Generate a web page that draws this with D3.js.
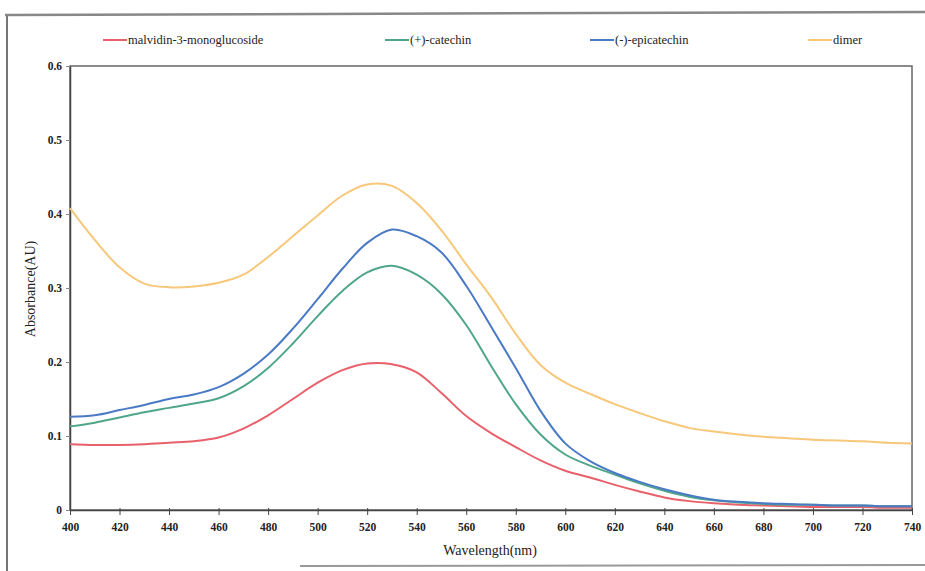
<!DOCTYPE html>
<html>
<head>
<meta charset="utf-8">
<script src="https://cdn.jsdelivr.net/npm/d3@7"></script>
<style>
  body { margin: 0; background: #fff; }
</style>
</head>
<body>
<div id="chart"></div>
<script>
// Wavelengths (nm)
const wavelengths = [400,410,420,430,440,450,460,470,480,490,500,510,520,530,540,550,560,570,580,590,600,610,620,630,640,650,660,670,680,690,700,710,720,730,740];

// Absorbance readings
const malvidin = [.089,.088,.088,.089,.091,.093,.098,.110,.128,.150,.172,.189,.198,.197,.186,.158,.127,.104,.085,.067,.053,.044,.034,.025,.017,.012,.009,.007,.006,.005,.004,.004,.004,.003,.003];
const catechin = [.113,.118,.125,.132,.138,.144,.151,.167,.192,.225,.262,.296,.321,.330,.318,.292,.250,.195,.143,.102,.075,.060,.048,.036,.026,.018,.013,.010,.008,.007,.007,.006,.006,.005,.005];
const epicatechin = [.126,.128,.135,.142,.150,.156,.166,.184,.210,.245,.285,.326,.361,.379,.370,.348,.303,.248,.192,.134,.090,.066,.050,.038,.028,.020,.014,.011,.009,.008,.007,.006,.006,.005,.005];
const dimer = [.408,.365,.328,.306,.301,.302,.307,.318,.342,.370,.398,.425,.440,.438,.415,.378,.332,.288,.238,.196,.172,.157,.143,.131,.120,.111,.106,.102,.099,.097,.095,.094,.093,.091,.090];

const seriesNames = ["malvidin-3-monoglucoside", "(+)-catechin", "(-)-epicatechin", "dimer"];
const seriesColors = ["#e8606a", "#4fa787", "#4a7ac5", "#f7c77a"];
const seriesValues = [malvidin, catechin, epicatechin, dimer];

const xTicks = d3.range(400, 741, 20);
const yTicks = [0, 0.1, 0.2, 0.3, 0.4, 0.5, 0.6];

const width = 925, height = 571;
const margin = { top: 66, right: 13, bottom: 61, left: 70 };
const serif = "'Liberation Serif', 'DejaVu Serif', 'Times New Roman', serif";

const svg = d3.select("#chart").append("svg")
  .attr("width", width)
  .attr("height", height)
  .style("font-family", serif);

// scanned page frame
svg.append("line").attr("x1", 7).attr("y1", 15).attr("x2", 7).attr("y2", 571)
  .attr("stroke", "#777").attr("stroke-width", 2);
svg.append("line").attr("x1", 5).attr("y1", 15).attr("x2", 925).attr("y2", 12)
  .attr("stroke", "#888").attr("stroke-width", 2.5);
svg.append("line").attr("x1", 300).attr("y1", 566).attr("x2", 925).attr("y2", 565)
  .attr("stroke", "#999").attr("stroke-width", 2);

const x = d3.scaleLinear().domain([400, 740]).range([margin.left, width - margin.right]);
const y = d3.scaleLinear().domain([0, 0.6]).range([height - margin.bottom, margin.top]);

// plot box
svg.append("rect")
  .attr("x", x(400)).attr("y", y(0.6))
  .attr("width", x(740) - x(400)).attr("height", y(0) - y(0.6))
  .attr("fill", "none").attr("stroke", "#666").attr("stroke-width", 1.5);

// x axis
const xAxis = svg.append("g")
  .attr("transform", `translate(0,${y(0)})`)
  .call(d3.axisBottom(x).tickValues(xTicks).tickSize(5).tickSizeOuter(0).tickFormat(d3.format("d")));
xAxis.attr("font-family", null);
xAxis.select(".domain").attr("stroke", "#444").attr("stroke-width", 1.5);
xAxis.selectAll(".tick line").attr("stroke", "#444").attr("y1", -2);
xAxis.selectAll("text").attr("dy", "1.1em")
  .style("font-family", serif).style("font-size", "11.5px").style("font-weight", "bold").attr("fill", "#222");

// y axis
const yAxis = svg.append("g")
  .attr("transform", `translate(${x(400)},0)`)
  .call(d3.axisLeft(y).tickValues(yTicks).tickSize(4).tickSizeOuter(0).tickFormat(d => d === 0 ? "0" : d3.format(".1f")(d)));
yAxis.attr("font-family", null);
yAxis.select(".domain").attr("stroke", "#444").attr("stroke-width", 1.5);
yAxis.selectAll(".tick line").attr("stroke", "#888");
yAxis.selectAll("text").attr("x", -8)
  .style("font-family", serif).style("font-size", "11.5px").style("font-weight", "bold").attr("fill", "#222");

// axis titles
svg.append("text")
  .attr("x", 490).attr("y", 555)
  .attr("text-anchor", "middle")
  .style("font-family", serif)
  .style("font-size", "14px")
  .attr("fill", "#222")
  .text("Wavelength(nm)");

svg.append("text")
  .attr("transform", "translate(35,289) rotate(-90)")
  .attr("text-anchor", "middle")
  .style("font-family", serif)
  .style("font-size", "14px")
  .attr("fill", "#222")
  .text("Absorbance(AU)");

// lines
const line = d3.line()
  .x((d, i) => x(wavelengths[i]))
  .y(d => y(d))
  .curve(d3.curveCatmullRom.alpha(0.5));

seriesValues.forEach((vals, k) => {
  svg.append("path")
    .datum(vals)
    .attr("fill", "none")
    .attr("stroke", seriesColors[k])
    .attr("stroke-width", 2)
    .attr("d", line);
});

// legend
const legendX = [103, 385, 590, 808];
const legend = svg.append("g");
seriesNames.forEach((name, k) => {
  legend.append("line")
    .attr("x1", legendX[k]).attr("x2", legendX[k] + 24)
    .attr("y1", 40).attr("y2", 40)
    .attr("stroke", seriesColors[k]).attr("stroke-width", 2);
  legend.append("text")
    .attr("x", legendX[k] + 25).attr("y", 44)
    .style("font-family", serif)
    .style("font-size", "12.5px")
    .attr("fill", "#222")
    .text(name);
});
</script>
</body>
</html>
